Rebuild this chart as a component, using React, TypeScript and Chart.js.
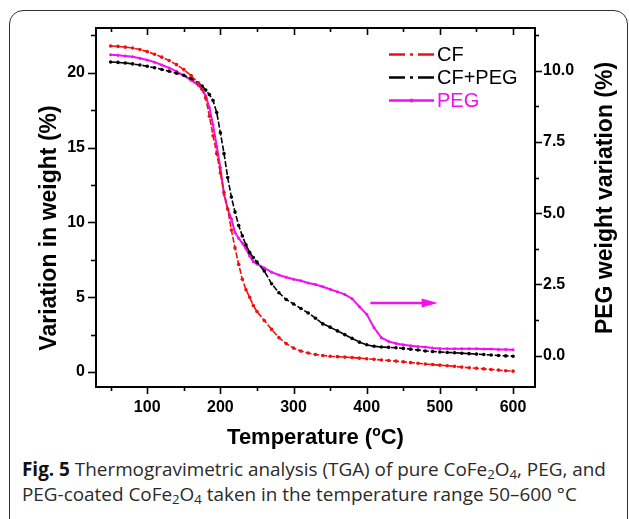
import React, { useEffect, useRef } from 'react';
import { Chart, registerables } from 'chart.js';
Chart.register(...registerables);

// Temperature grid (°C)
const temps = [50, 60, 70, 80, 90, 100, 110, 120, 130, 140, 150, 160, 170,
  175, 180, 185, 190, 195, 200, 205, 210, 215, 220, 225, 230, 235, 240, 245, 250,
  260, 270, 280, 290, 300, 310, 320, 330, 340, 350, 360, 370, 380, 390, 400, 410, 420, 430, 440, 450,
  460, 470, 480, 490, 500, 510, 520, 530, 540, 550, 560, 570, 580, 590, 600];

// Variation in weight (%) - left axis
const cfValues = [21.8, 21.77, 21.72, 21.66, 21.56, 21.42, 21.25, 21.05, 20.82, 20.55, 20.22, 19.82, 19.3,
  18.9, 18.3, 17.1, 15.8, 14.6, 13.3, 12.0, 10.9, 9.5, 8.3, 7.2, 6.2, 5.5, 5.0, 4.45, 4.05,
  3.45, 2.85, 2.3, 1.9, 1.6, 1.4, 1.27, 1.17, 1.11, 1.06, 1.03, 1.0, 0.97, 0.93, 0.89, 0.85, 0.81, 0.77, 0.73, 0.68,
  0.63, 0.59, 0.54, 0.5, 0.46, 0.42, 0.38, 0.33, 0.29, 0.25, 0.21, 0.17, 0.13, 0.09, 0.06];

const cfPegValues = [20.73, 20.7, 20.66, 20.6, 20.53, 20.44, 20.34, 20.23, 20.11, 19.98, 19.84, 19.62, 19.32,
  19.12, 18.85, 18.55, 18.15, 17.35, 16.0, 14.6, 13.0, 11.7, 10.7, 9.8, 9.1, 8.5, 8.0, 7.65, 7.35,
  6.75, 5.9, 5.3, 4.85, 4.55, 4.25, 3.95, 3.6, 3.22, 3.0, 2.75, 2.5, 2.25, 2.0, 1.82, 1.72, 1.67, 1.65, 1.62, 1.58,
  1.53, 1.47, 1.41, 1.37, 1.34, 1.31, 1.29, 1.26, 1.23, 1.2, 1.17, 1.14, 1.11, 1.08, 1.06];

// PEG weight variation (%) - right axis
const pegValues = [10.56, 10.54, 10.52, 10.49, 10.44, 10.38, 10.3, 10.2, 10.1, 9.98, 9.83, 9.67, 9.48,
  9.35, 9.12, 8.7, 8.1, 7.35, 6.6, 5.65, 5.15, 4.8, 4.32, 4.12, 3.95, 3.75, 3.5, 3.3, 3.22,
  3.08, 2.93, 2.83, 2.75, 2.68, 2.63, 2.55, 2.5, 2.42, 2.33, 2.24, 2.15, 2.0, 1.72, 1.45, 0.98, 0.63, 0.5, 0.43, 0.38,
  0.35, 0.32, 0.3, 0.27, 0.25, 0.24, 0.24, 0.24, 0.24, 0.24, 0.23, 0.23, 0.22, 0.22, 0.21];

const seriesNames = ['CF', 'CF+PEG', 'PEG'];
const seriesColors = ['#f01010', '#000000', '#f010f0'];

// Arrow pointing to PEG's axis (temperature, right-axis value)
const arrowFrom = [405, 1.85];
const arrowTo = [497, 1.85];

// Axis ranges and tick values
const xRange = [30, 630];
const leftRange = [-1, 23];
const rightRange = [-1.1, 11.5];
const xMajorTicks = [100, 200, 300, 400, 500, 600];
const xMinorTicks = [50, 150, 250, 350, 450, 550];
const leftMajorTicks = [0, 5, 10, 15, 20];
const leftMinorTicks = [2.5, 7.5, 12.5, 17.5, 22.5];
const rightMajorTicks = [0, 2.5, 5, 7.5, 10];
const rightMinorTicks = [1.25, 3.75, 6.25, 8.75, 11.25];

const xTitle = 'Temperature (';
const leftTitle = 'Variation in weight (%)';
const rightTitle = 'PEG weight variation (%)';

const FONT = '"Liberation Sans", Arial, sans-serif';

const decorPlugin = {
  id: 'decor',
  afterDraw(chart: any) {
    const { ctx, chartArea: a, scales } = chart;
    const x = scales.x, yl = scales.y, yr = scales.y2;
    const ln = (x1: number, y1: number, x2: number, y2: number) => {
      ctx.beginPath(); ctx.moveTo(x1, y1); ctx.lineTo(x2, y2); ctx.stroke();
    };
    ctx.save();
    ctx.strokeStyle = '#000';
    ctx.lineWidth = 2;
    ctx.strokeRect(a.left, a.top, a.right - a.left, a.bottom - a.top);
    ctx.lineWidth = 1.6;
    for (const v of xMajorTicks) {
      const p = Math.round(x.getPixelForValue(v)) + 0.5;
      ln(p, a.bottom, p, a.bottom + 7); ln(p, a.top, p, a.top + 7);
    }
    for (const v of xMinorTicks) {
      const p = Math.round(x.getPixelForValue(v)) + 0.5;
      ln(p, a.bottom, p, a.bottom + 4); ln(p, a.top, p, a.top + 4);
    }
    for (const v of leftMajorTicks) {
      const p = Math.round(yl.getPixelForValue(v)) + 0.5;
      ln(a.left - 8, p, a.left, p);
    }
    for (const v of leftMinorTicks) {
      const p = Math.round(yl.getPixelForValue(v)) + 0.5;
      ln(a.left - 5, p, a.left, p);
    }
    for (const v of rightMajorTicks) {
      const p = Math.round(yr.getPixelForValue(v)) + 0.5;
      ln(a.right, p, a.right + 7, p);
    }
    for (const v of rightMinorTicks) {
      const p = Math.round(yr.getPixelForValue(v)) + 0.5;
      ln(a.right, p, a.right + 4, p);
    }

    // x tick labels
    ctx.fillStyle = '#000';
    ctx.font = `bold 16px ${FONT}`;
    ctx.textAlign = 'center';
    ctx.textBaseline = 'middle';
    for (const v of xMajorTicks) {
      ctx.fillText(String(v), x.getPixelForValue(v), a.bottom + 21);
    }

    // Arrow
    const ax1 = x.getPixelForValue(arrowFrom[0]);
    const ax2 = x.getPixelForValue(arrowTo[0]);
    const ay = yr.getPixelForValue(arrowFrom[1]);
    ctx.strokeStyle = seriesColors[2];
    ctx.fillStyle = seriesColors[2];
    ctx.lineWidth = 2.5;
    ln(ax1, ay, ax2 - 12, ay);
    ctx.beginPath();
    ctx.moveTo(ax2, ay);
    ctx.lineTo(ax2 - 16, ay - 4.5);
    ctx.lineTo(ax2 - 16, ay + 4.5);
    ctx.closePath();
    ctx.fill();

    // Titles
    ctx.fillStyle = '#000';
    ctx.font = `bold 23px ${FONT}`;
    ctx.textBaseline = 'middle';
    ctx.textAlign = 'center';
    ctx.save();
    ctx.translate(50, 228);
    ctx.rotate(-Math.PI / 2);
    ctx.fillText(leftTitle, 0, 0);
    ctx.restore();
    ctx.save();
    ctx.translate(606, 198);
    ctx.rotate(-Math.PI / 2);
    ctx.fillText(rightTitle, 0, 0);
    ctx.restore();
    // x title with superscript o
    ctx.textAlign = 'left';
    ctx.font = `bold 22px ${FONT}`;
    const w1 = ctx.measureText(xTitle).width;
    ctx.font = `bold 14px ${FONT}`;
    const wo = ctx.measureText('o').width;
    ctx.font = `bold 22px ${FONT}`;
    const w3 = ctx.measureText('C)').width;
    const total = w1 + wo + w3;
    const cx = (a.left + a.right) / 2;
    let sx = cx - total / 2;
    const ty = 438;
    ctx.fillText(xTitle, sx, ty);
    sx += w1;
    ctx.font = `bold 14px ${FONT}`;
    ctx.fillText('o', sx, ty - 6);
    sx += wo;
    ctx.font = `bold 22px ${FONT}`;
    ctx.fillText('C)', sx, ty);

    // Legend
    const rows = [54, 77, 100];
    ctx.font = `20px ${FONT}`;
    ctx.textBaseline = 'middle';
    for (let i = 0; i < 3; i++) {
      const yy = rows[i] + 0.5;
      ctx.strokeStyle = seriesColors[i];
      ctx.fillStyle = seriesColors[i];
      ctx.lineWidth = 2.5;
      if (i < 2) ctx.setLineDash([16, 5, 3, 5]); else ctx.setLineDash([]);
      ln(389, yy, 434, yy);
      ctx.setLineDash([]);
      if (i === 2) {
        ctx.beginPath(); ctx.arc(411.5, yy, 2, 0, Math.PI * 2); ctx.fill();
      }
      ctx.fillStyle = i === 2 ? seriesColors[2] : '#000';
      ctx.fillText(seriesNames[i], 437, rows[i] + 1);
    }
    ctx.restore();
  },
};

export default function App() {
  const ref = useRef<HTMLCanvasElement>(null);
  useEffect(() => {
    if (!ref.current) return;
    const mk = (vals: number[]) => temps.map((t, i) => ({ x: t, y: vals[i] }));
    const chart = new Chart(ref.current, {
      type: 'line',
      data: {
        datasets: [
          {
            label: seriesNames[0], data: mk(cfValues), yAxisID: 'y',
            borderColor: seriesColors[0], backgroundColor: seriesColors[0],
            borderWidth: 1.6, borderDash: [6, 2], pointRadius: 1.8, pointBorderWidth: 0,
          },
          {
            label: seriesNames[1], data: mk(cfPegValues), yAxisID: 'y',
            borderColor: seriesColors[1], backgroundColor: seriesColors[1],
            borderWidth: 1.6, borderDash: [6, 2], pointRadius: 1.8, pointBorderWidth: 0,
          },
          {
            label: seriesNames[2], data: mk(pegValues), yAxisID: 'y2',
            borderColor: seriesColors[2], backgroundColor: seriesColors[2],
            borderWidth: 2, pointRadius: 1.5, pointBorderWidth: 0,
          },
        ],
      },
      options: {
        responsive: false,
        animation: false,
        devicePixelRatio: 1,
        layout: { padding: { top: 28, left: 0, right: 0, bottom: 0 } },
        plugins: { legend: { display: false }, tooltip: { enabled: false } },
        scales: {
          x: {
            type: 'linear', min: xRange[0], max: xRange[1],
            grid: { display: false, drawTicks: false }, border: { display: false },
            ticks: { display: false, stepSize: 100, includeBounds: false },
            afterFit: (s: any) => { s.height = 63; },
          },
          y: {
            type: 'linear', position: 'left', min: leftRange[0], max: leftRange[1],
            grid: { display: false, drawTicks: false }, border: { display: false },
            ticks: {
              stepSize: 5, includeBounds: false, padding: 11, color: '#000',
              font: { family: FONT, size: 16, weight: 'bold' },
              callback: (v: any) => (leftMajorTicks.includes(v) ? String(v) : ''),
            },
            afterFit: (s: any) => { s.width = 96; },
          },
          y2: {
            type: 'linear', position: 'right', min: rightRange[0], max: rightRange[1],
            grid: { display: false, drawTicks: false }, border: { display: false },
            ticks: {
              stepSize: 2.5, includeBounds: false, padding: 8, color: '#000',
              font: { family: FONT, size: 16, weight: 'bold' },
              callback: (v: any) => (rightMajorTicks.includes(v) ? Number(v).toFixed(1) : ''),
            },
            afterFit: (s: any) => { s.width = 94; },
          },
        },
      },
      plugins: [decorPlugin],
    } as any);
    return () => chart.destroy();
  }, []);

  const sub = { fontSize: '0.7em', lineHeight: 0, verticalAlign: '-0.25em' } as const;
  return (
    <div style={{ position: 'absolute', left: 0, top: 0, width: 629, height: 519, overflow: 'hidden', background: '#fff' }}>
      <div style={{
        position: 'absolute', left: 9, top: 10, width: 619, height: 530, boxSizing: 'border-box',
        border: '1.5px solid #333', borderRadius: 14,
      }} />
      <canvas ref={ref} width={629} height={450} style={{ position: 'absolute', left: 0, top: 0, width: 629, height: 450 }} />
      <div style={{
        position: 'absolute', left: 22, top: 457, width: 605, fontFamily: '"Open Sans", sans-serif',
        fontSize: 18.9, lineHeight: '25px', color: '#2a2a2a', whiteSpace: 'nowrap',
      }}>
        <b style={{ color: '#111' }}>Fig. 5</b> Thermogravimetric analysis (TGA) of pure CoFe<sub style={sub}>2</sub>O<sub style={sub}>4</sub>, PEG, and<br />
        PEG-coated CoFe<sub style={sub}>2</sub>O<sub style={sub}>4</sub> taken in the temperature range 50–600 °C
      </div>
    </div>
  );
}
